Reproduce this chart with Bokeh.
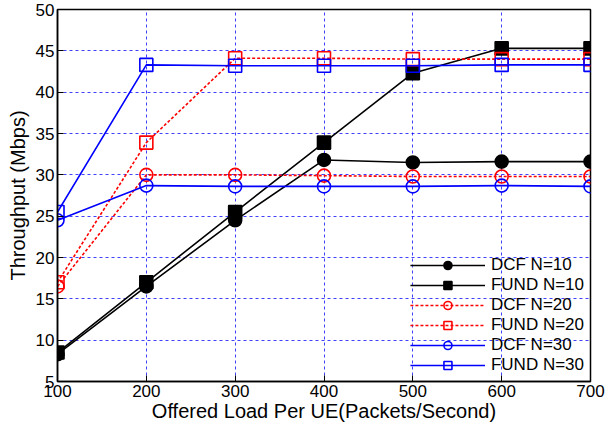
from bokeh.plotting import figure
from bokeh.models import Legend, LegendItem, FixedTicker, Range1d
from bokeh.embed import file_html
from bokeh.resources import INLINE

load = [100, 200, 300, 400, 500, 600, 700]
dcf_10 = [8.3, 16.5, 24.5, 31.8, 31.5, 31.6, 31.6]
fund_10 = [8.5, 17.0, 25.5, 33.9, 42.3, 45.3, 45.3]
dcf_20 = [16.5, 30.0, 30.0, 29.9, 29.8, 29.8, 29.8]
fund_20 = [17.0, 33.9, 44.1, 44.1, 44.0, 44.0, 44.0]
dcf_30 = [24.5, 28.7, 28.6, 28.6, 28.6, 28.7, 28.6]
fund_30 = [25.5, 43.3, 43.2, 43.2, 43.2, 43.3, 43.3]
x_ticks = [100, 200, 300, 400, 500, 600, 700]
y_ticks = [5, 10, 15, 20, 25, 30, 35, 40, 45, 50]

FONT = "Liberation Sans"

p = figure(width=608, height=426, output_backend="svg", toolbar_location=None,
           x_range=Range1d(100, 700), y_range=Range1d(5, 50),
           min_border_left=57, min_border_right=18, min_border_top=9, min_border_bottom=45)

p.outline_line_color = "black"
p.outline_line_width = 1.5

for ax in (p.xaxis[0], p.yaxis[0]):
    ax.major_label_text_font = FONT
    ax.major_label_text_font_size = "17px"
    ax.major_label_text_color = "black"
    ax.axis_label_text_font = FONT
    ax.axis_label_text_font_size = "20px"
    ax.axis_label_text_font_style = "normal"
    ax.axis_label_text_color = "black"
    ax.major_tick_in = 6
    ax.major_tick_out = 0
    ax.major_tick_line_color = "black"
    ax.minor_tick_line_color = None
    ax.axis_line_color = "black"
    ax.axis_line_width = 1.5
    ax.major_label_standoff = 3
p.xaxis[0].ticker = FixedTicker(ticks=x_ticks)
p.yaxis[0].ticker = FixedTicker(ticks=y_ticks)
p.xaxis[0].axis_label = "Offered Load Per UE(Packets/Second)"
p.yaxis[0].axis_label = "Throughput (Mbps)"
p.xaxis[0].axis_label_standoff = 0
p.yaxis[0].axis_label_standoff = 4

for g in (p.xgrid[0], p.ygrid[0]):
    g.grid_line_color = "#0000ff"
    g.grid_line_alpha = 0.75
    g.grid_line_dash = "3 3"
    g.grid_line_width = 1
p.xgrid[0].ticker = FixedTicker(ticks=[200, 300, 400, 500, 600])
p.ygrid[0].ticker = FixedTicker(ticks=[10, 15, 20, 25, 30, 35, 40, 45])

items = []
def series(y, color, marker, fill, dash, label):
    l = p.line(load, y, line_color=color, line_width=1.6, line_dash=dash)
    m = p.scatter(load, y, marker=marker, size=13, line_color=color, line_width=1.6,
                  fill_color=(color if fill else None))
    items.append(LegendItem(label=label, renderers=[l, m]))

series(dcf_10, "black", "circle", True, "solid", "DCF N=10")
series(fund_10, "black", "square", True, "solid", "FUND N=10")
series(dcf_20, "#ff0000", "circle", False, "3 2", "DCF N=20")
series(fund_20, "#ff0000", "square", False, "3 2", "FUND N=20")
series(dcf_30, "#0000ff", "circle", False, "solid", "DCF N=30")
series(fund_30, "#0000ff", "square", False, "solid", "FUND N=30")

legend = Legend(items=items, location="bottom_right", background_fill_alpha=0,
                border_line_color=None, label_text_font=FONT, label_text_font_size="17px",
                label_text_color="black",
                glyph_width=75, glyph_height=20, label_height=20, spacing=0,
                padding=4, margin=6, label_standoff=6)
p.add_layout(legend)

open("out.html", "w").write(file_html(p, INLINE))
